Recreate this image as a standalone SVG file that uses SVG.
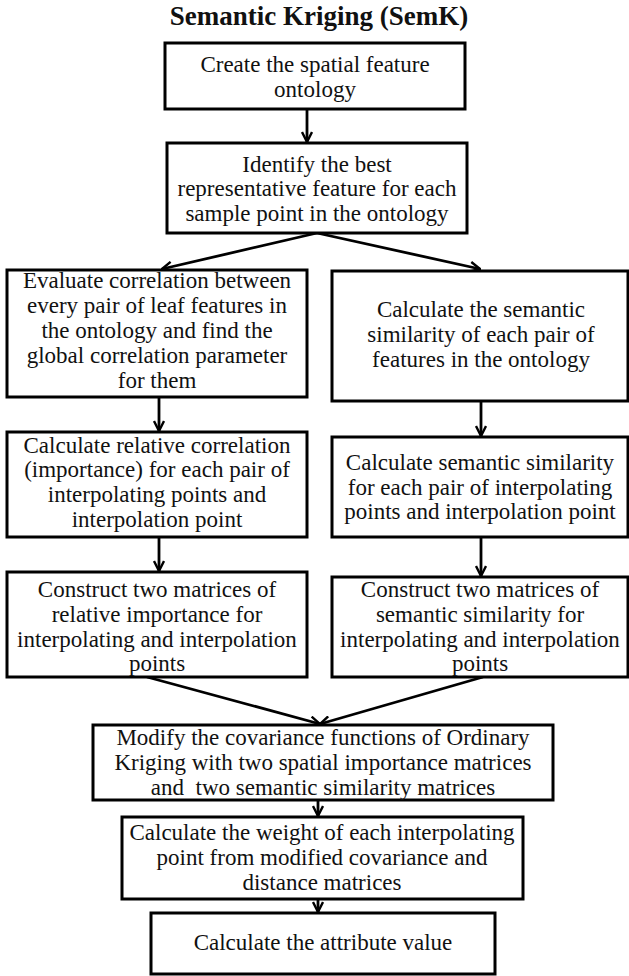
<svg xmlns="http://www.w3.org/2000/svg" width="629" height="976" viewBox="0 0 629 976">
<defs>
<style>
.box{fill:#fff;stroke:#000;stroke-width:3}
.t{font-family:"Liberation Serif","Times New Roman",serif;font-size:23px;fill:#111;text-anchor:middle}
.title{font-family:"Liberation Serif","Times New Roman",serif;font-size:27px;font-weight:bold;fill:#111;text-anchor:middle}
.c{fill:none;stroke:#000;stroke-width:2.8}
</style>
<marker id="ah" viewBox="0 0 12 12" refX="11" refY="6" markerWidth="12" markerHeight="12" markerUnits="userSpaceOnUse" orient="auto">
<path d="M1,1 L11,6 L1,11" fill="none" stroke="#000" stroke-width="2.4"/>
</marker>
</defs>
<rect width="629" height="976" fill="#fff"/>
<text class="title" x="319" y="25">Semantic Kriging (SemK)</text>
<g id="connectors">
<line class="c" x1="307" y1="109" x2="307" y2="142" marker-end="url(#ah)"/>
<line class="c" x1="317" y1="233" x2="162" y2="269" marker-end="url(#ah)"/>
<line class="c" x1="317" y1="233" x2="480" y2="269" marker-end="url(#ah)"/>
<line class="c" x1="159" y1="397" x2="159" y2="431" marker-end="url(#ah)"/>
<line class="c" x1="481" y1="401" x2="481" y2="436" marker-end="url(#ah)"/>
<line class="c" x1="159" y1="537" x2="159" y2="571" marker-end="url(#ah)"/>
<line class="c" x1="481" y1="537" x2="481" y2="576" marker-end="url(#ah)"/>
<line class="c" x1="147" y1="677" x2="320" y2="724" marker-end="url(#ah)"/>
<line class="c" x1="483" y1="677" x2="320" y2="724" marker-end="url(#ah)"/>
<line class="c" x1="318" y1="800" x2="318" y2="816" marker-end="url(#ah)"/>
<line class="c" x1="318" y1="899" x2="318" y2="912" marker-end="url(#ah)"/>
</g>
<g id="n1"><rect class="box" x="165" y="43" width="300" height="66"/>
<text class="t" x="315" y="72">Create the spatial feature</text>
<text class="t" x="315" y="97">ontology</text></g>
<g id="n2"><rect class="box" x="167" y="143" width="300" height="90"/>
<text class="t" x="317" y="172">Identify the best</text>
<text class="t" x="317" y="196">representative feature for each</text>
<text class="t" x="317" y="221">sample point in the ontology</text></g>
<g id="n3"><rect class="box" x="7" y="270" width="300" height="127"/>
<text class="t" x="157" y="288">Evaluate correlation between</text>
<text class="t" x="157" y="313">every pair of leaf features in</text>
<text class="t" x="157" y="338">the ontology and find the</text>
<text class="t" x="157" y="363">global correlation parameter</text>
<text class="t" x="157" y="388">for them</text></g>
<g id="n4"><rect class="box" x="332" y="271" width="296" height="130"/>
<text class="t" x="481" y="317">Calculate the semantic</text>
<text class="t" x="481" y="342">similarity of each pair of</text>
<text class="t" x="481" y="367">features in the ontology</text></g>
<g id="n5"><rect class="box" x="7" y="432" width="300" height="105"/>
<text class="t" x="157" y="453">Calculate relative correlation</text>
<text class="t" x="157" y="477">(importance) for each pair of</text>
<text class="t" x="157" y="502">interpolating points and</text>
<text class="t" x="157" y="527">interpolation point</text></g>
<g id="n6"><rect class="box" x="332" y="437" width="296" height="100"/>
<text class="t" x="480" y="470">Calculate semantic similarity</text>
<text class="t" x="480" y="495">for each pair of interpolating</text>
<text class="t" x="480" y="519">points and interpolation point</text></g>
<g id="n7"><rect class="box" x="7" y="572" width="300" height="105"/>
<text class="t" x="157" y="597">Construct two matrices of</text>
<text class="t" x="157" y="622">relative importance for</text>
<text class="t" x="157" y="647">interpolating and interpolation</text>
<text class="t" x="157" y="671">points</text></g>
<g id="n8"><rect class="box" x="332" y="577" width="296" height="100"/>
<text class="t" x="480" y="597">Construct two matrices of</text>
<text class="t" x="480" y="622">semantic similarity for</text>
<text class="t" x="480" y="647">interpolating and interpolation</text>
<text class="t" x="480" y="671">points</text></g>
<g id="n9"><rect class="box" x="93" y="725" width="460" height="75"/>
<text class="t" x="323" y="745">Modify the covariance functions of Ordinary</text>
<text class="t" x="323" y="770">Kriging with two spatial importance matrices</text>
<text class="t" x="323" y="795" xml:space="preserve">and  two semantic similarity matrices</text></g>
<g id="n10"><rect class="box" x="122" y="817" width="401" height="82"/>
<text class="t" x="322" y="840">Calculate the weight of each interpolating</text>
<text class="t" x="322" y="865">point from modified covariance and</text>
<text class="t" x="322" y="890">distance matrices</text></g>
<g id="n11"><rect class="box" x="151" y="913" width="344" height="61"/>
<text class="t" x="323" y="950">Calculate the attribute value</text></g>
</svg>
